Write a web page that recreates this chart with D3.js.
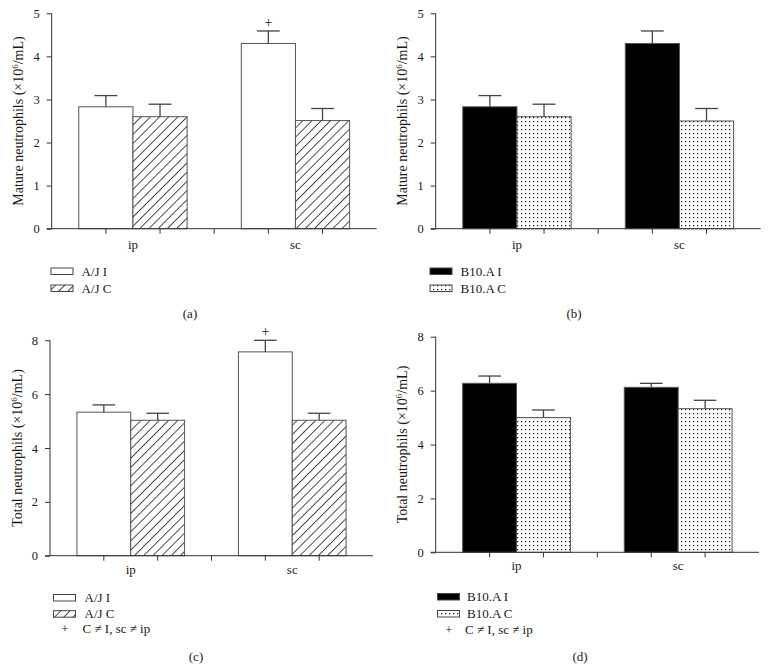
<!DOCTYPE html>
<html>
<head>
<meta charset="utf-8">
<script src="https://cdn.jsdelivr.net/npm/d3@7"></script>
<style>
  html, body { margin: 0; padding: 0; background: #fff; }
  svg { display: block; }
  text { font-family: "Liberation Serif", "Times New Roman", serif; fill: #1a1a1a; }
</style>
</head>
<body>
<svg id="chart" width="768" height="670"></svg>
<script>
// ---------- data ----------
const categories = ["ip", "sc"];
const seriesAJ = ["A/J I", "A/J C"];
const seriesB10 = ["B10.A I", "B10.A C"];
const sigLabel = "C \u2260 I, sc \u2260 ip";

const matureAJ_I = [2.83, 4.30];
const matureAJ_I_sem = [0.26, 0.29];
const matureAJ_C = [2.60, 2.51];
const matureAJ_C_sem = [0.29, 0.28];

const matureB10_I = [2.83, 4.30];
const matureB10_I_sem = [0.26, 0.29];
const matureB10_C = [2.60, 2.50];
const matureB10_C_sem = [0.29, 0.29];

const totalAJ_I = [5.33, 7.57];
const totalAJ_I_sem = [0.27, 0.43];
const totalAJ_C = [5.03, 5.03];
const totalAJ_C_sem = [0.26, 0.26];

const totalB10_I = [6.27, 6.12];
const totalB10_I_sem = [0.27, 0.15];
const totalB10_C = [5.00, 5.33];
const totalB10_C_sem = [0.28, 0.31];

// significance markers: [seriesIndex, categoryIndex]
const sigA = [[0, 1]];
const sigC = [[0, 1]];

const ticksMature = [0, 1, 2, 3, 4, 5];
const ticksTotal = [0, 2, 4, 6, 8];

const labelMature = "Mature neutrophils";
const labelTotal = "Total neutrophils";
const captions = ["(a)", "(b)", "(c)", "(d)"];

// ---------- drawing ----------
const svg = d3.select("#chart");
const defs = svg.append("defs");

// hatch pattern
const hatch = defs.append("pattern")
  .attr("id", "hatch").attr("patternUnits", "userSpaceOnUse")
  .attr("width", 6.5).attr("height", 6.5)
  .attr("patternTransform", "rotate(45)");
hatch.append("rect").attr("width", 6.5).attr("height", 6.5).attr("fill", "#fff");
hatch.append("line").attr("x1", 0).attr("y1", 0).attr("x2", 0).attr("y2", 6.5)
  .attr("stroke", "#000").attr("stroke-width", 1.4);

// dot pattern
const dots = defs.append("pattern")
  .attr("id", "dots").attr("patternUnits", "userSpaceOnUse")
  .attr("width", 4).attr("height", 4);
dots.append("rect").attr("width", 4).attr("height", 4).attr("fill", "#fff");
dots.append("rect").attr("x", 1).attr("y", 1).attr("width", 1.2).attr("height", 1.2).attr("fill", "#111");

const fillsAJ = ["#fff", "url(#hatch)"];
const fillsB10 = ["#000", "url(#dots)"];

const panels = [
  { left: 51.7, right: 376.7, top: 13.3, bottom: 228.7, ymax: 5, ticks: ticksMature, label: labelMature,
    series: seriesAJ, fills: fillsAJ,
    vals: [matureAJ_I, matureAJ_C], sems: [matureAJ_I_sem, matureAJ_C_sem], sig: sigA,
    labelX: 23, xLabOff: 20,
    legX: 51, legY: 268, legTextX: 81.5, legStep: 17, sigLegend: false, capX: 190, capY: 318 },
  { left: 435.7, right: 760.7, top: 13.3, bottom: 228.7, ymax: 5, ticks: ticksMature, label: labelMature,
    series: seriesB10, fills: fillsB10,
    vals: [matureB10_I, matureB10_C], sems: [matureB10_I_sem, matureB10_C_sem], sig: [],
    labelX: 407, xLabOff: 20,
    legX: 430, legY: 268, legTextX: 460.5, legStep: 17, sigLegend: false, capX: 574, capY: 318 },
  { left: 50, right: 373, top: 340.3, bottom: 555.7, ymax: 8, ticks: ticksTotal, label: labelTotal,
    series: seriesAJ, fills: fillsAJ,
    vals: [totalAJ_I, totalAJ_C], sems: [totalAJ_I_sem, totalAJ_C_sem], sig: sigC,
    labelX: 22, xLabOff: 18,
    legX: 53.5, legY: 594.5, legTextX: 84.5, legStep: 16.2, sigLegend: true, capX: 196, capY: 661 },
  { left: 435.7, right: 759, top: 336.7, bottom: 552.3, ymax: 8, ticks: ticksTotal, label: labelTotal,
    series: seriesB10, fills: fillsB10,
    vals: [totalB10_I, totalB10_C], sems: [totalB10_I_sem, totalB10_C_sem], sig: [],
    labelX: 407, xLabOff: 18,
    legX: 437.5, legY: 593.5, legTextX: 467, legStep: 17, sigLegend: true, capX: 580, capY: 661 }
];

panels.forEach((p, pi) => {
  const g = svg.append("g");
  const y = d3.scaleLinear().domain([0, p.ymax]).range([p.bottom, p.top]);
  const x0 = d3.scaleBand().domain(categories).range([p.left, p.right])
    .paddingInner(1 / 3).paddingOuter(1 / 6);
  const x1 = d3.scaleBand().domain([0, 1]).range([0, x0.bandwidth()]);

  // bars
  categories.forEach((c, ci) => {
    [0, 1].forEach(si => {
      const v = p.vals[si][ci];
      g.append("rect")
        .attr("x", x0(c) + x1(si))
        .attr("y", y(v))
        .attr("width", x1.bandwidth())
        .attr("height", y(0) - y(v))
        .attr("fill", p.fills[si])
        .attr("stroke", "#555").attr("stroke-width", 1);
    });
  });

  // error bars
  categories.forEach((c, ci) => {
    [0, 1].forEach(si => {
      const v = p.vals[si][ci], e = p.sems[si][ci];
      const cx = x0(c) + x1(si) + x1.bandwidth() / 2;
      const cw = x1.bandwidth() * 0.42;
      g.append("line").attr("x1", cx).attr("x2", cx).attr("y1", y(v)).attr("y2", y(v + e))
        .attr("stroke", "#444").attr("stroke-width", 1.3);
      g.append("line").attr("x1", cx - cw / 2).attr("x2", cx + cw / 2).attr("y1", y(v + e)).attr("y2", y(v + e))
        .attr("stroke", "#444").attr("stroke-width", 1.3);
    });
  });

  // significance
  p.sig.forEach(([si, ci]) => {
    const c = categories[ci];
    const v = p.vals[si][ci], e = p.sems[si][ci];
    const cx = x0(c) + x1(si) + x1.bandwidth() / 2;
    g.append("text").attr("x", cx).attr("y", y(v + e) - 4)
      .attr("text-anchor", "middle").attr("font-size", 14).text("+");
  });

  // y axis
  const yAxis = d3.axisLeft(y).tickValues(p.ticks).tickSize(5).tickPadding(7).tickFormat(d3.format("d"));
  const ya = g.append("g").attr("transform", `translate(${p.left},0)`).call(yAxis);
  ya.select(".domain").attr("stroke", "#333").attr("d", `M0,${p.top}V${p.bottom}`);
  ya.selectAll(".tick line").attr("stroke", "#333");
  ya.selectAll(".tick text").attr("font-size", 12.5).attr("font-family", "Liberation Serif, serif").attr("fill", "#1a1a1a");

  // x axis line
  g.append("line").attr("x1", p.left - 5).attr("x2", p.right).attr("y1", p.bottom).attr("y2", p.bottom)
    .attr("stroke", "#333").attr("stroke-width", 1);
  // x ticks at bar centers and midpoint between groups
  const tickXs = [];
  categories.forEach(c => [0, 1].forEach(si => tickXs.push(x0(c) + x1(si) + x1.bandwidth() / 2)));
  tickXs.push((x0(categories[0]) + x0.bandwidth() + x0(categories[1])) / 2);
  tickXs.forEach(tx => g.append("line").attr("x1", tx).attr("x2", tx)
    .attr("y1", p.bottom).attr("y2", p.bottom + 5).attr("stroke", "#333"));
  categories.forEach(c => {
    g.append("text").attr("x", x0(c) + x0.bandwidth() / 2).attr("y", p.bottom + p.xLabOff)
      .attr("text-anchor", "middle").attr("font-size", 13).text(c);
  });

  // y label
  const cy = (p.top + p.bottom) / 2;
  const lab = g.append("text")
    .attr("transform", `translate(${p.labelX},${cy}) rotate(-90)`)
    .attr("text-anchor", "middle").attr("font-size", 14);
  lab.append("tspan").text(p.label + " (\u00d710");
  lab.append("tspan").attr("font-size", 9).attr("dy", -5.5).text("6");
  lab.append("tspan").attr("dy", 5.5).text("/mL)");

  // legend
  p.series.forEach((s, si) => {
    const ly = p.legY + si * p.legStep;
    g.append("rect").attr("x", p.legX).attr("y", ly).attr("width", 22).attr("height", 6.5)
      .attr("fill", p.fills[si]).attr("stroke", "#444").attr("stroke-width", 1);
    g.append("text").attr("x", p.legTextX).attr("y", ly + 7.5).attr("font-size", 13).text(s);
  });
  if (p.sigLegend) {
    const ly = p.legY + 2 * p.legStep;
    g.append("text").attr("x", p.legX + 11.5).attr("y", ly + 6.5).attr("text-anchor", "middle")
      .attr("font-size", 13).text("+");
    g.append("text").attr("x", p.legTextX - 2).attr("y", ly + 6.5).attr("font-size", 13).text(sigLabel);
  }

  // caption
  g.append("text").attr("x", p.capX).attr("y", p.capY).attr("text-anchor", "middle")
    .attr("font-size", 13).text(captions[pi]);
});
</script>
</body>
</html>
